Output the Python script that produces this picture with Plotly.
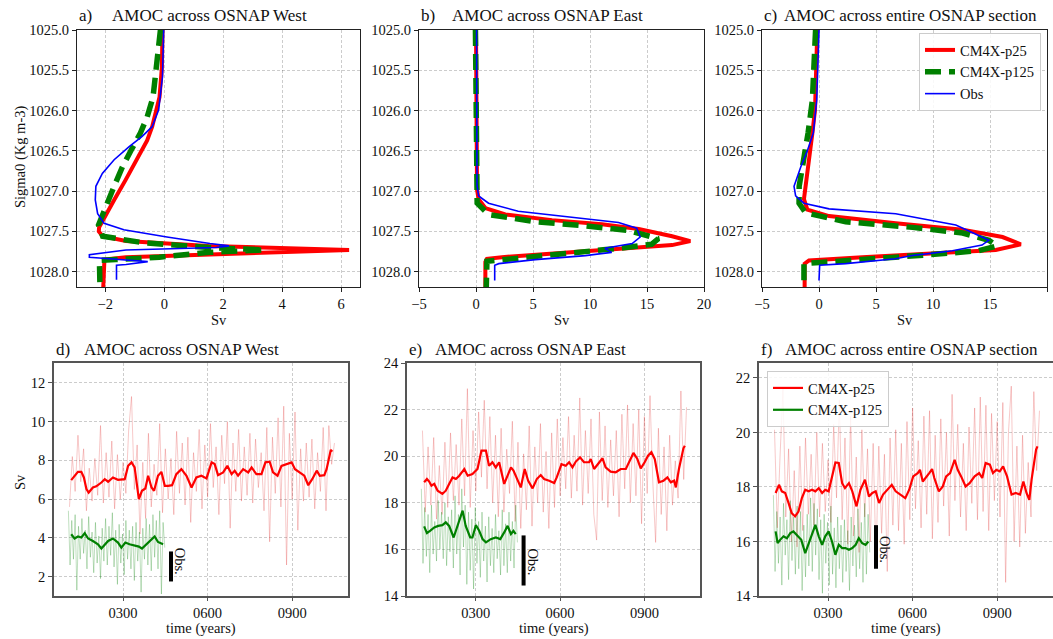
import numpy as np
import plotly.graph_objects as go

W, H = 1053, 639
FONT = "Liberation Serif"

# ---------------- profile data (panels a-c) ----------------
RED_A_SIG = [1025.0, 1025.46, 1025.83, 1026.0, 1026.2, 1026.37, 1026.61, 1026.86, 1027.11, 1027.36, 1027.45, 1027.5,
             1027.56, 1027.62, 1027.68, 1027.73, 1027.77, 1027.80, 1027.82, 1027.85, 1028.2]
RED_A_SV = [-0.06, -0.08, -0.16, -0.27, -0.41, -0.58, -0.92, -1.31, -1.70, -2.10, -2.21, -2.22,
            -2.09, -1.3, 1.5, 6.27, 2.65, -0.17, -1.3, -2.03, -2.07]
GREEN_A_SIG = [1025.0, 1025.46, 1025.83, 1026.08, 1026.28, 1026.49, 1026.70, 1026.94, 1027.19, 1027.36, 1027.42,
               1027.56, 1027.64, 1027.70, 1027.73, 1027.76, 1027.82, 1027.85, 1027.86, 1028.2]
GREEN_A_SV = [-0.13, -0.25, -0.38, -0.58, -0.81, -1.12, -1.42, -1.70, -1.98, -2.15, -2.23,
              -2.09, -0.73, 1.53, 3.39, 1.53, -0.17, -1.64, -2.2, -2.18]
BLUE_A_SIG = [1025.0, 1025.58, 1025.99, 1026.2, 1026.32, 1026.45, 1026.61, 1026.78, 1026.94, 1027.11, 1027.28,
              1027.40, 1027.48, 1027.57, 1027.65, 1027.68, 1027.70, 1027.73, 1027.79, 1027.82, 1027.84, 1027.875,
              1027.91, 1027.92, 1028.10]
BLUE_A_SV = [-0.02, -0.06, -0.19, -0.41, -0.75, -1.2, -1.70, -2.10, -2.32, -2.34, -2.26,
             -2.04, -1.37, 0.09, 1.55, 2.2, 1.75, -1.3, -2.54, -2.54, -1.86, -0.56,
             -1.3, -1.62, -1.62]

RED_B_SIG = [1025.0, 1026.94, 1026.98, 1027.1, 1027.21, 1027.29, 1027.36, 1027.41, 1027.47, 1027.56, 1027.62,
             1027.67, 1027.70, 1027.74, 1027.78, 1027.82, 1027.84, 1027.88, 1028.2]
RED_B_SV = [0.0, 0.05, 0.09, 0.23, 0.82, 2.57, 6.67, 11.05, 14.27, 17.2, 18.8,
            17.2, 13.98, 9.59, 5.79, 2.28, 0.96, 0.82, 0.82]
GREEN_B_SIG = [1025.0, 1026.98, 1027.15, 1027.29, 1027.38, 1027.43, 1027.49, 1027.59, 1027.66, 1027.71, 1027.77,
               1027.83, 1027.87, 1028.2]
GREEN_B_SV = [-0.05, 0.0, 0.1, 1.1, 5.2, 9.6, 13.4, 16.0, 15.4, 12.5, 8.1, 3.7, 0.96, 0.9]
BLUE_B_SIG = [1025.0, 1026.93, 1027.06, 1027.15, 1027.25, 1027.32, 1027.39, 1027.46, 1027.57, 1027.65, 1027.71,
              1027.76, 1027.80, 1027.85, 1027.90, 1027.92, 1028.11]
BLUE_B_SV = [0.05, 0.09, 0.23, 1.1, 3.7, 8.1, 12.5, 14.1, 14.4, 13.7, 11.3, 11.9, 9.6, 5.2, 2.0, 1.64, 1.64]

RED_C_SIG = [1025.0, 1025.99, 1026.28, 1026.57, 1026.86, 1027.1, 1027.23, 1027.31, 1027.40, 1027.48, 1027.57,
             1027.66, 1027.73, 1027.77, 1027.82, 1027.86, 1027.90, 1028.2]
RED_C_SV = [-0.15, -0.35, -0.58, -0.87, -1.08, -1.32, -1.02, 0.88, 6.73, 12.6, 16.1,
            17.7, 15.5, 9.65, 3.8, -0.88, -1.26, -1.26]
GREEN_C_SIG = [1025.0, 1025.87, 1026.28, 1026.70, 1026.94, 1027.15, 1027.27, 1027.38, 1027.45, 1027.52, 1027.61,
               1027.68, 1027.74, 1027.79, 1027.84, 1027.88, 1027.90, 1028.2]
GREEN_C_SV = [-0.3, -0.58, -0.96, -1.45, -1.74, -1.75, -1.17, 2.34, 8.2, 12.6, 14.9,
              15.6, 14.0, 9.65, 3.8, -0.88, -1.32, -1.32]
BLUE_C_SIG = [1025.0, 1025.87, 1026.28, 1026.49, 1026.70, 1026.94, 1027.06, 1027.15, 1027.22, 1027.28, 1027.42,
              1027.50, 1027.61, 1027.67, 1027.74, 1027.80, 1027.84, 1027.90, 1027.92, 1028.11]
BLUE_C_SV = [0.0, -0.2, -0.5, -1.0, -1.6, -2.19, -2.05, -1.32, 0.88, 6.73, 12.0,
             13.2, 14.9, 14.3, 11.7, 8.2, 6.7, 2.34, 0.06, 0.0]

# ---------------- time series data (panels d-f) ----------------
YEARS_P25 = np.arange(110, 1051, 10)      # annual samples (every 10th year shown)
YEARS_P125 = np.arange(106, 449, 6)

RAW_P25_W = [5.6, 8.2, 6.4, 9.3, 6.9, 8.6, 5.4, 7.6, 5.9, 8.1, 6.2, 9.8, 5.8, 8.4, 6.1, 9.0, 5.5, 8.3, 6.0, 7.9,
             6.3, 9.6, 11.3, 6.5, 8.8, 4.2, 7.9, 5.0, 9.4, 5.6, 7.8, 6.2, 9.9, 5.3, 8.6, 6.0, 8.1, 5.2, 9.5, 6.3,
             8.9, 5.7, 9.2, 4.8, 8.4, 6.4, 9.6, 5.5, 8.8, 6.1, 9.9, 6.6, 8.7, 5.2, 9.3, 6.8, 10.0, 4.5, 8.9, 6.4,
             9.6, 5.9, 8.7, 6.2, 9.4, 5.8, 9.1, 6.6, 8.4, 5.4, 9.7, 3.8, 9.2, 6.3, 10.2, 5.6, 10.8, 2.6, 9.4, 6.0,
             10.5, 4.4, 8.6, 5.9, 8.9, 6.1, 9.1, 5.5, 8.4, 6.4, 9.7, 5.4, 9.8, 7.8, 8.9]
RAW_P125_W = [5.4, 2.6, 4.9, 2.9, 5.2, 1.3, 4.6, 2.9, 5.0, 3.2, 4.4, 2.4, 5.1, 3.0, 4.3, 2.2, 4.8, 2.7, 4.1, 1.9,
              4.5, 2.8, 5.0, 2.6, 4.6, 3.1, 5.3, 2.5, 4.4, 1.6, 4.7, 2.7, 4.2, 2.1, 4.9, 2.9, 4.4, 2.4, 4.6, 1.8,
              4.8, 2.8, 4.3, 1.2, 4.5, 2.9, 5.0, 2.6, 4.7, 2.3, 5.2, 3.0, 4.9, 2.4, 5.4, 1.1, 4.8, 3.5]
RAW_P25_E = [21.1, 17.6, 20.4, 17.9, 20.8, 17.3, 19.6, 17.5, 20.6, 17.8, 21.0, 18.1, 20.5, 17.9, 21.6, 18.3, 22.9,
             17.8, 21.1, 18.5, 21.9, 19.1, 22.4, 18.6, 21.7, 18.0, 20.9, 17.4, 21.2, 17.6, 20.3, 18.4, 21.5, 17.2,
             20.6, 16.9, 20.1, 17.7, 21.3, 17.0, 20.4, 18.0, 21.4, 17.6, 20.2, 16.9, 21.0, 17.8, 21.6, 18.3, 20.8,
             18.6, 21.7, 18.2, 20.9, 18.5, 22.5, 17.9, 21.1, 18.4, 21.6, 17.5, 16.4, 21.9, 18.1, 21.3, 17.8, 20.7,
             18.3, 21.1, 17.4, 21.8, 18.6, 22.2, 18.0, 21.4, 18.3, 22.0, 17.1, 21.7, 18.4, 22.6, 18.9, 16.3, 21.2,
             17.5, 20.4, 16.8, 20.9, 17.9, 19.8, 18.2, 22.8, 19.0, 22.1]
RAW_P125_E = [18.6, 15.4, 17.8, 15.7, 17.5, 15.0, 17.9, 15.8, 17.2, 15.5, 18.1, 16.0, 17.6, 15.6, 18.0, 15.3, 17.4,
              15.9, 17.7, 15.2, 18.3, 15.8, 17.5, 14.9, 18.6, 16.1, 17.9, 14.5, 17.6, 15.1, 17.3, 14.3, 17.8, 15.4,
              17.2, 14.8, 17.6, 15.5, 17.0, 14.6, 17.4, 15.3, 16.9, 15.0, 17.5, 15.6, 16.8, 14.9, 17.7, 15.3, 17.1,
              15.0, 17.6, 15.5, 17.2, 15.2, 17.9, 16.3]
RAW_P25_T = [20.1, 16.5, 19.2, 21.6, 16.9, 19.4, 16.0, 18.6, 15.8, 19.5, 16.4, 19.8, 17.0, 19.2, 16.6, 20.0, 16.9,
             19.6, 17.1, 19.0, 16.7, 20.3, 17.6, 21.2, 16.8, 19.8, 15.9, 20.6, 16.2, 19.1, 15.6, 20.1, 16.9, 19.4,
             16.0, 19.6, 15.3, 19.5, 16.3, 19.2, 14.9, 19.8, 16.6, 20.1, 16.4, 19.6, 15.9, 20.4, 16.8, 20.9, 17.2,
             19.7, 16.5, 20.6, 17.0, 20.8, 16.1, 19.9, 16.7, 20.5, 17.3, 20.0, 16.2, 21.4, 17.5, 20.3, 16.9, 19.6,
             16.4, 20.2, 17.4, 20.9, 16.8, 21.3, 17.1, 21.0, 16.4, 20.7, 17.5, 20.4, 16.9, 21.1, 14.5, 20.0, 21.7,
             16.0, 19.5, 15.8, 19.9, 16.3, 18.9, 16.9, 21.5, 18.6, 20.8]
RAW_P125_T = [17.7, 14.9, 17.1, 15.2, 16.9, 14.4, 17.4, 15.5, 16.8, 14.6, 17.5, 15.3, 16.9, 14.8, 17.3, 15.0, 17.1,
              14.2, 16.6, 14.7, 17.0, 15.1, 17.6, 14.9, 17.4, 15.5, 17.2, 14.6, 16.8, 14.1, 17.0, 15.2, 16.7, 14.4,
              17.3, 14.8, 16.5, 14.3, 16.9, 15.0, 16.6, 14.5, 16.8, 14.9, 16.4, 14.2, 16.9, 15.1, 16.6, 14.7, 17.2,
              15.0, 16.7, 14.5, 17.4, 14.8, 17.0, 15.6]

SM_P25_W_YR = [116, 128, 140, 152, 161, 170, 178, 193, 205, 223, 235, 247, 264, 282, 306, 318, 330, 341, 351, 356,
               367, 379, 389, 401, 410, 424, 436, 448, 460, 474, 489, 507, 525, 543, 560, 578, 596, 614, 625, 637,
               655, 670, 685, 696, 708, 726, 744, 756, 773, 791, 805, 820, 832, 848, 862, 880, 898, 910, 927, 943,
               957, 971, 987, 998, 1014, 1022, 1037, 1042]
SM_P25_W = [6.98, 7.21, 7.41, 7.41, 7.12, 6.52, 6.34, 6.6, 6.66, 6.86, 7.03, 6.9, 7.12, 7.0, 7.03, 7.72, 7.9, 7.64,
            6.52, 6.0, 6.43, 6.55, 7.21, 6.6, 6.43, 7.21, 7.41, 6.69, 6.69, 6.72, 7.29, 7.55, 7.21, 6.6, 7.12, 7.21,
            7.07, 7.9, 7.81, 7.24, 7.38, 7.72, 7.29, 7.47, 7.21, 7.55, 7.38, 7.64, 7.29, 7.29, 7.9, 7.93, 7.38, 7.21,
            7.72, 7.81, 7.9, 7.55, 7.38, 7.21, 6.72, 7.03, 7.47, 7.21, 7.24, 7.55, 8.55, 8.45]
SM_P125_W_YR = [116, 128, 140, 152, 164, 176, 193, 211, 223, 235, 247, 264, 282, 294, 308, 323, 341, 356, 367, 383,
                401, 412, 424, 436, 442]
SM_P125_W = [4.19, 3.97, 4.07, 4.02, 4.24, 3.97, 3.84, 3.67, 3.45, 3.67, 3.84, 3.97, 3.76, 3.5, 3.76, 3.67, 3.59,
             3.55, 3.45, 3.67, 3.93, 4.07, 3.79, 3.72, 3.67]

SM_P25_E_YR = [116, 126, 134, 142, 152, 164, 181, 193, 205, 217, 229, 241, 259, 271, 288, 306, 320, 336, 347, 359,
               371, 383, 401, 413, 425, 434, 448, 460, 474, 486, 502, 517, 531, 543, 561, 579, 588, 605, 620, 632,
               644, 656, 671, 685, 703, 709, 721, 735, 751, 762, 780, 798, 816, 834, 849, 861, 875, 887, 901, 913,
               925, 937, 952, 968, 982, 994, 1006, 1012, 1023, 1039, 1044]
SM_P25_E = [18.88, 19.02, 18.91, 18.73, 18.81, 18.52, 18.38, 18.52, 18.81, 19.09, 19.02, 19.16, 19.45, 19.16, 19.23,
            19.45, 20.24, 20.24, 19.59, 19.74, 19.52, 19.74, 18.81, 19.16, 19.52, 19.38, 18.95, 18.66, 19.45, 18.95,
            18.62, 19.02, 19.19, 19.02, 18.95, 18.85, 19.09, 19.66, 19.59, 19.74, 19.52, 19.77, 19.95, 19.74, 19.74,
            19.88, 19.45, 19.66, 19.91, 19.52, 19.34, 19.31, 19.45, 19.45, 19.81, 20.14, 19.88, 19.48, 19.74, 20.02,
            20.17, 19.88, 18.88, 18.95, 19.09, 18.88, 18.95, 18.66, 19.45, 20.34, 20.45]
SM_P125_E_YR = [116, 126, 137, 152, 166, 181, 193, 205, 221, 235, 244, 253, 264, 280, 288, 300, 312, 324, 336, 353,
                371, 387, 401, 413, 425, 434, 442]
SM_P125_E = [16.99, 16.7, 16.8, 16.94, 17.01, 17.04, 17.16, 17.01, 16.51, 17.01, 17.3, 17.66, 17.01, 16.51, 16.51,
             17.04, 16.8, 16.44, 16.3, 16.44, 16.51, 16.44, 16.73, 17.01, 16.66, 16.8, 16.66]

SM_P25_T_YR = [114, 126, 136, 148, 160, 171, 183, 195, 207, 219, 231, 243, 255, 267, 279, 290, 302, 314, 326, 338,
               350, 360, 374, 386, 401, 415, 431, 445, 457, 469, 481, 495, 511, 526, 540, 558, 574, 588, 602, 618,
               626, 636, 647, 659, 669, 677, 693, 707, 719, 733, 749, 760, 772, 788, 802, 820, 836, 847, 859, 874,
               885, 897, 909, 921, 935, 951, 966, 981, 993, 1004, 1014, 1022, 1038, 1043]
SM_P25_T = [17.78, 18.08, 17.84, 17.78, 17.41, 17.04, 16.92, 17.1, 17.59, 17.9, 17.84, 17.9, 17.84, 17.96, 17.78,
            17.9, 17.84, 18.33, 18.9, 18.88, 18.14, 17.96, 18.14, 17.84, 17.29, 17.9, 18.27, 17.65, 17.78, 17.84,
            17.41, 17.72, 17.9, 18.08, 17.84, 17.72, 17.59, 17.9, 18.39, 18.51, 18.63, 18.2, 18.33, 18.51, 18.66,
            18.33, 17.84, 18.02, 18.39, 18.51, 19.0, 18.63, 18.39, 18.02, 18.14, 18.39, 18.51, 18.33, 18.88, 18.82,
            18.51, 18.63, 18.57, 18.76, 18.39, 17.72, 17.78, 17.72, 18.2, 17.78, 17.53, 18.27, 19.37, 19.49]
SM_P125_T_YR = [114, 121, 130, 142, 154, 166, 177, 189, 205, 219, 231, 243, 255, 267, 279, 290, 302, 314, 326, 338,
                350, 362, 374, 386, 398, 409, 421, 433, 443]
SM_P125_T = [16.37, 15.94, 16.06, 16.19, 16.12, 16.31, 16.37, 16.25, 16.06, 15.57, 15.94, 16.31, 16.61, 16.19, 15.88,
             16.19, 16.37, 16.0, 15.51, 15.88, 15.76, 15.76, 15.7, 15.76, 15.88, 16.12, 15.94, 15.88, 16.0]

# observational range bars (year position, low, high)
OBS_YEAR = 470
OBS_W = [1.75, 3.3]
OBS_E = [14.45, 16.6]
OBS_T = [15.0, 16.6]

TOP_TITLES = ["AMOC across OSNAP West", "AMOC across OSNAP East", "AMOC across entire OSNAP section"]
BOT_TITLES = ["AMOC across OSNAP West", "AMOC across OSNAP East", "AMOC across entire OSNAP section"]
TIME_TICKS = [300, 600, 900]
TIME_TICKTEXT = ["0300", "0600", "0900"]
SIG_TICKS = [1025.0, 1025.5, 1026.0, 1026.5, 1027.0, 1027.5, 1028.0]

RED, GREEN, BLUE = "#ff0000", "#008000", "#0000ff"

fig = go.Figure()


def fx(p):
    return p / W


def fy(p):
    return 1 - p / H


# ---------------- top panels ----------------
top_sets = [
    (RED_A_SIG, RED_A_SV, GREEN_A_SIG, GREEN_A_SV, BLUE_A_SIG, BLUE_A_SV),
    (RED_B_SIG, RED_B_SV, GREEN_B_SIG, GREEN_B_SV, BLUE_B_SIG, BLUE_B_SV),
    (RED_C_SIG, RED_C_SV, GREEN_C_SIG, GREEN_C_SV, BLUE_C_SIG, BLUE_C_SV),
]
for i, (rs, rv, gs, gv, bs, bv) in enumerate(top_sets):
    ax = "" if i == 0 else str(i + 1)
    show = i == 2
    fig.add_trace(go.Scatter(x=rv, y=rs, mode="lines", line=dict(color=RED, width=4),
                             name="CM4X-p25", showlegend=show, legend="legend",
                             xaxis="x" + ax, yaxis="y" + ax))
    fig.add_trace(go.Scatter(x=gv, y=gs, mode="lines", line=dict(color=GREEN, width=5.5, dash="16px,8px"),
                             name="CM4X-p125", showlegend=show, legend="legend",
                             xaxis="x" + ax, yaxis="y" + ax))
    fig.add_trace(go.Scatter(x=bv, y=bs, mode="lines", line=dict(color=BLUE, width=1.6),
                             name="Obs", showlegend=show, legend="legend",
                             xaxis="x" + ax, yaxis="y" + ax))

# ---------------- bottom panels ----------------
bot_sets = [
    (RAW_P25_W, RAW_P125_W, SM_P25_W_YR, SM_P25_W, SM_P125_W_YR, SM_P125_W, OBS_W),
    (RAW_P25_E, RAW_P125_E, SM_P25_E_YR, SM_P25_E, SM_P125_E_YR, SM_P125_E, OBS_E),
    (RAW_P25_T, RAW_P125_T, SM_P25_T_YR, SM_P25_T, SM_P125_T_YR, SM_P125_T, OBS_T),
]
for i, (r25, r125, s25y, s25, s125y, s125, obs) in enumerate(bot_sets):
    ax = str(i + 4)
    show = i == 2
    fig.add_trace(go.Scatter(x=YEARS_P25, y=r25, mode="lines", line=dict(color="rgba(225,40,40,0.25)", width=1),
                             showlegend=False, hoverinfo="skip", xaxis="x" + ax, yaxis="y" + ax))
    fig.add_trace(go.Scatter(x=YEARS_P125, y=r125, mode="lines", line=dict(color="rgba(0,128,0,0.25)", width=1),
                             showlegend=False, hoverinfo="skip", xaxis="x" + ax, yaxis="y" + ax))
    fig.add_trace(go.Scatter(x=s25y, y=s25, mode="lines", line=dict(color=RED, width=2.2),
                             name="CM4X-p25", showlegend=show, legend="legend2",
                             xaxis="x" + ax, yaxis="y" + ax))
    fig.add_trace(go.Scatter(x=s125y, y=s125, mode="lines", line=dict(color=GREEN, width=2.2),
                             name="CM4X-p125", showlegend=show, legend="legend2",
                             xaxis="x" + ax, yaxis="y" + ax))
    fig.add_trace(go.Scatter(x=[OBS_YEAR, OBS_YEAR], y=obs, mode="lines", line=dict(color="black", width=4),
                             showlegend=False, xaxis="x" + ax, yaxis="y" + ax))

# ---------------- axes ----------------
tickfont = dict(family=FONT, size=14.5, color="#111")
grid = dict(showgrid=True, gridcolor="rgba(0,0,0,0.2)", griddash="3px,2px", gridwidth=1, zeroline=False)


def top_axis(domain, rng, ticks):
    return dict(domain=domain, range=rng, tickvals=ticks, showline=True, mirror=True, linecolor="#222",
                linewidth=1, ticks="outside", ticklen=4, tickcolor="#222", tickfont=tickfont,
                automargin=False, **grid)


def bot_axis(domain, rng, ticks, ticktext=None, ticklen=4):
    d = dict(domain=domain, range=rng, tickvals=ticks, showline=True, mirror=True, linecolor="#555",
             linewidth=1.5, ticks="outside", ticklen=ticklen, tickcolor="#555", tickfont=tickfont,
             automargin=False, **grid)
    if ticktext is not None:
        d["ticktext"] = ticktext
    return d


top_dom_y = [fy(287), fy(30)]
bot_dom_y = [fy(596), fy(363)]
top_x_dom = [[fx(77), fx(360)], [fx(419), fx(704)], [fx(762), fx(1047)]]
top_x_rng = [[-2.96, 6.64], [-5, 20], [-5, 20]]
top_x_ticks = [[-2, 0, 2, 4, 6], [-5, 0, 5, 10, 15, 20], [-5, 0, 5, 10, 15, 20]]
bot_x_dom = [[fx(54), fx(348)], [fx(407), fx(700)], [fx(759), fx(1053)]]
bot_y_rng = [[1.0, 13.03], [14, 24], [14, 22.55]]
bot_y_ticks = [[2, 4, 6, 8, 10, 12], [14, 16, 18, 20, 22, 24], [14, 16, 18, 20, 22]]
axis_title_font = dict(family=FONT, size=14.5, color="#111")

layout = {}
for i in range(3):
    ax = "" if i == 0 else str(i + 1)
    xa = top_axis(top_x_dom[i], top_x_rng[i], top_x_ticks[i])
    xa["anchor"] = "y" + ax
    ya = top_axis(top_dom_y, [1028.19, 1025.0], SIG_TICKS)
    ya["anchor"] = "x" + ax
    ya["tickformat"] = ".1f"
    layout["xaxis" + ax] = xa
    layout["yaxis" + ax] = ya

for i in range(3):
    ax = str(i + 4)
    xa = bot_axis(bot_x_dom[i], [55, 1098], TIME_TICKS, TIME_TICKTEXT, ticklen=3)
    xa["anchor"] = "y" + ax
    ya = bot_axis(bot_dom_y, bot_y_rng[i], bot_y_ticks[i])
    ya["anchor"] = "x" + ax
    layout["xaxis" + ax] = xa
    layout["yaxis" + ax] = ya

fig.update_layout(**layout)

# ---------------- titles / annotations ----------------
ann = []
title_font = dict(family=FONT, size=17, color="#111")
top_lab_x = [77, 419, 762]
top_tit_x = [110, 450, 782]
bot_lab_x = [54, 407, 759]
bot_tit_x = [82, 433, 783]
for i, lab in enumerate(["a)", "b)", "c)"]):
    ann.append(dict(text=lab, x=fx(top_lab_x[i]), y=fy(27), xref="paper", yref="paper", xanchor="left",
                    yanchor="bottom", showarrow=False, font=title_font))
    ann.append(dict(text=TOP_TITLES[i], x=fx(top_tit_x[i]), y=fy(27), xref="paper", yref="paper",
                    xanchor="left", yanchor="bottom", showarrow=False, font=title_font))
    cx = (top_x_dom[i][0] + top_x_dom[i][1]) / 2
    ann.append(dict(text="Sv", x=cx, y=fy(320), xref="paper", yref="paper", xanchor="center",
                    yanchor="middle", showarrow=False, font=axis_title_font))
for i, lab in enumerate(["d)", "e)", "f)"]):
    ann.append(dict(text=lab, x=fx(bot_lab_x[i]), y=fy(361), xref="paper", yref="paper", xanchor="left",
                    yanchor="bottom", showarrow=False, font=title_font))
    ann.append(dict(text=BOT_TITLES[i], x=fx(bot_tit_x[i]), y=fy(361), xref="paper", yref="paper",
                    xanchor="left", yanchor="bottom", showarrow=False, font=title_font))
    cx = (bot_x_dom[i][0] + bot_x_dom[i][1]) / 2
    ann.append(dict(text="time (years)", x=cx, y=fy(639), xref="paper", yref="paper", xanchor="center",
                    yanchor="bottom", showarrow=False, font=axis_title_font))

# y-axis titles
ann.append(dict(text="Sigma0 (Kg m-3)", x=fx(20), y=fy(157), xref="paper", yref="paper", xanchor="center",
                yanchor="middle", showarrow=False, textangle=-90, font=axis_title_font))
ann.append(dict(text="Sv", x=fx(20), y=fy(482), xref="paper", yref="paper", xanchor="center",
                yanchor="middle", showarrow=False, textangle=-90, font=axis_title_font))

obs_centres = [2.77, 15.46, 15.69]
for i in range(3):
    ax = str(i + 4)
    ann.append(dict(text="Obs.", x=OBS_YEAR, y=obs_centres[i], xref="x" + ax, yref="y" + ax,
                    xshift=9, showarrow=False, textangle=90, xanchor="center", yanchor="middle",
                    font=dict(family=FONT, size=14.5, color="#111")))

fig.update_layout(
    annotations=ann,
    width=W, height=H,
    margin=dict(l=0, r=0, t=0, b=0, autoexpand=False),
    paper_bgcolor="white", plot_bgcolor="white",
    font=dict(family=FONT, size=14, color="#111"),
    legend=dict(x=fx(919), y=fy(33), xanchor="left", yanchor="top", bgcolor="rgba(255,255,255,0.85)",
                bordercolor="#cccccc", borderwidth=1, font=dict(family=FONT, size=14.5, color="#111"),
                tracegroupgap=0),
    legend2=dict(x=fx(767), y=fy(371), xanchor="left", yanchor="top", bgcolor="rgba(255,255,255,0.85)",
                 bordercolor="#cccccc", borderwidth=1, font=dict(family=FONT, size=14.5, color="#111"),
                 tracegroupgap=0),
)

fig.write_html("out.html")
